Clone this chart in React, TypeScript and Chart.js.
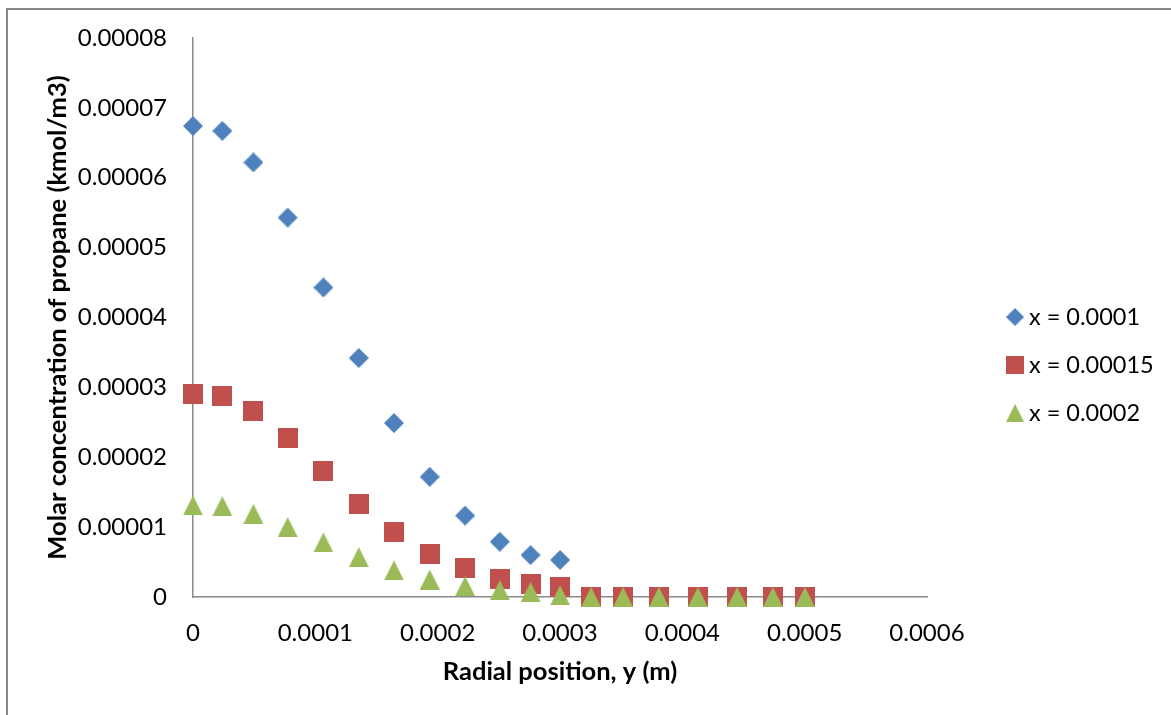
import React, { useEffect, useRef } from 'react';
import { Chart, registerables } from 'chart.js';

Chart.register(...registerables);

// Radial position y (m)
const radialPosition = [
  0, 0.000024, 0.0000494, 0.0000774, 0.0001066, 0.0001355, 0.0001643, 0.0001935,
  0.0002224, 0.0002508, 0.0002759, 0.0003001, 0.0003254, 0.0003516, 0.0003808,
  0.0004127, 0.0004448, 0.000474, 0.0005002,
];

// Molar concentration of propane (kmol/m3)
const concAtX0001 = [
  6.74e-5, 6.67e-5, 6.22e-5, 5.43e-5, 4.43e-5, 3.42e-5, 2.49e-5, 1.72e-5,
  1.165e-5, 0.79e-5, 0.6e-5, 0.53e-5, 0, 0, 0, 0, 0, 0, 0,
];
const concAtX00015 = [
  2.91e-5, 2.88e-5, 2.66e-5, 2.27e-5, 1.8e-5, 1.33e-5, 0.93e-5, 0.62e-5,
  0.41e-5, 0.26e-5, 0.19e-5, 0.15e-5, 0, 0, 0, 0, 0, 0, 0,
];
const concAtX0002 = [
  1.31e-5, 1.3e-5, 1.19e-5, 1.0e-5, 0.78e-5, 0.57e-5, 0.38e-5, 0.25e-5,
  0.155e-5, 0.096e-5, 0.07e-5, 0.024e-5, 0, 0, 0, 0, 0, 0, 0,
];

const seriesLabels = ['x = 0.0001', 'x = 0.00015', 'x = 0.0002'];

const xTickValues = [0, 0.0001, 0.0002, 0.0003, 0.0004, 0.0005, 0.0006];
const xTickLabels = ['0', '0.0001', '0.0002', '0.0003', '0.0004', '0.0005', '0.0006'];
const yTickValues = [0, 0.00001, 0.00002, 0.00003, 0.00004, 0.00005, 0.00006, 0.00007, 0.00008];
const yTickLabels = ['0', '0.00001', '0.00002', '0.00003', '0.00004', '0.00005', '0.00006', '0.00007', '0.00008'];

const BLUE = '#4F81BD';
const RED = '#C0504D';
const GREEN = '#9BBB59';

function makeMarker(shape: string, color: string, size: number): HTMLCanvasElement {
  const c = document.createElement('canvas');
  c.width = size;
  c.height = size;
  const g = c.getContext('2d')!;
  g.fillStyle = color;
  g.beginPath();
  if (shape === 'diamond') {
    g.moveTo(size / 2, 0);
    g.lineTo(size, size / 2);
    g.lineTo(size / 2, size);
    g.lineTo(0, size / 2);
  } else if (shape === 'square') {
    g.rect(0, 0, size, size);
  } else {
    g.moveTo(size / 2, 0);
    g.lineTo(size, size);
    g.lineTo(0, size);
  }
  g.closePath();
  g.fill();
  return c;
}

const sideLegend = {
  id: 'sideLegend',
  afterDraw(chart: any, _args: any, opts: any) {
    const ctx = chart.ctx;
    ctx.save();
    ctx.font = opts.font;
    ctx.fillStyle = '#000';
    ctx.textBaseline = 'middle';
    ctx.textAlign = 'left';
    chart.data.datasets.forEach((ds: any, i: number) => {
      const y = opts.top + i * opts.spacing;
      const s = opts.markerSize;
      ctx.drawImage(ds.pointStyle, opts.markerX - s / 2, y - s / 2, s, s);
      ctx.fillText(ds.label, opts.textX, y);
    });
    ctx.restore();
  },
};

export default function App() {
  const ref = useRef<HTMLCanvasElement>(null);

  useEffect(() => {
    const markers = [
      makeMarker('diamond', BLUE, 20),
      makeMarker('square', RED, 20),
      makeMarker('triangle', GREEN, 20),
    ];
    const series = [concAtX0001, concAtX00015, concAtX0002];
    const datasets = series.map((vals, i) => ({
      label: seriesLabels[i],
      data: vals.map((v, j) => ({ x: radialPosition[j], y: v })),
      pointStyle: markers[i],
      backgroundColor: [BLUE, RED, GREEN][i],
      borderColor: [BLUE, RED, GREEN][i],
      showLine: false,
      clip: false as any,
      order: 3 - i,
    }));

    const tickFont = { family: 'Lato', size: 24 };
    const titleFont = { family: 'Lato', size: 25.5, weight: 'bold' as const };

    const chart = new Chart(ref.current!, {
      type: 'scatter',
      data: { datasets },
      plugins: [sideLegend],
      options: {
        animation: false,
        responsive: false,
        events: [],
        layout: { autoPadding: false, padding: { left: 0, top: 28, right: 244, bottom: 28 } },
        plugins: {
          legend: { display: false },
          tooltip: { enabled: false },
          sideLegend: {
            font: '23.5px Lato',
            markerX: 1007,
            textX: 1021,
            top: 307,
            spacing: 48,
            markerSize: 18,
          },
        } as any,
        scales: {
          x: {
            type: 'linear',
            min: 0,
            max: 0.0006,
            afterBuildTicks: (s: any) => {
              s.ticks = xTickValues.map((v) => ({ value: v }));
            },
            afterFit: (s: any) => {
              s.height = 90;
              s.paddingLeft = 0;
              s.paddingRight = 0;
            },
            ticks: {
              font: tickFont,
              color: '#000',
              padding: 22,
              maxRotation: 0,
              callback: (_v: any, i: number) => xTickLabels[i],
            },
            grid: { display: false, drawTicks: false },
            border: { display: true, color: '#8a8a8a', width: 1.5 },
            title: {
              display: true,
              text: 'Radial position, y (m)',
              font: titleFont,
              color: '#000',
              padding: { top: 0, bottom: 0 },
            },
          },
          y: {
            type: 'linear',
            min: 0,
            max: 0.00008,
            afterBuildTicks: (s: any) => {
              s.ticks = yTickValues.map((v) => ({ value: v }));
            },
            afterFit: (s: any) => {
              s.width = 185;
              s.paddingTop = 0;
              s.paddingBottom = 0;
            },
            ticks: {
              font: tickFont,
              color: '#000',
              padding: 26,
              callback: (_v: any, i: number) => yTickLabels[i],
            },
            grid: { display: false, drawTicks: false },
            border: { display: true, color: '#8a8a8a', width: 1.5 },
            title: {
              display: true,
              text: 'Molar concentration of propane (kmol/m3)',
              font: titleFont,
              color: '#000',
              padding: { top: 34, bottom: 0 },
            },
          },
        },
      },
    });
    return () => chart.destroy();
  }, []);

  return (
    <div
      style={{
        position: 'fixed',
        left: 6,
        top: 8,
        width: 1200,
        height: 740,
        border: '2px solid #868686',
        background: '#fff',
      }}
    >
      <canvas ref={ref} width={1163} height={705} style={{ display: 'block' }} />
    </div>
  );
}
